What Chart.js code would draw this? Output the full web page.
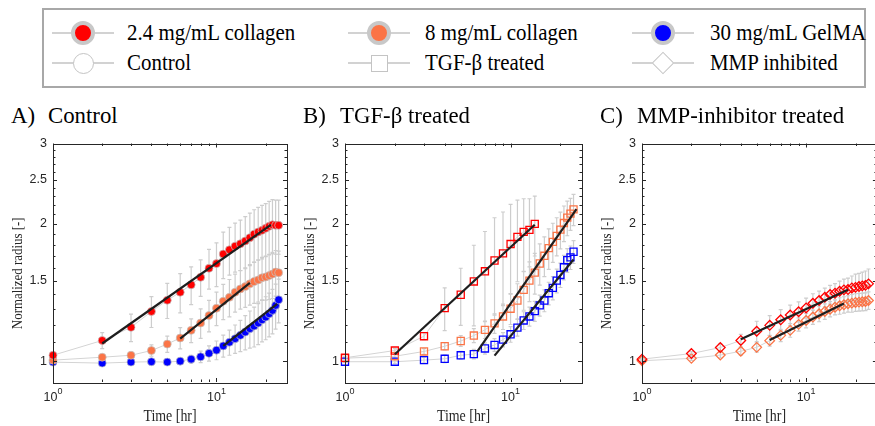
<!DOCTYPE html>
<html>
<head>
<meta charset="utf-8">
<script src="https://cdn.jsdelivr.net/npm/chart.js@4.4.0/dist/chart.umd.min.js"></script>
<style>
  html, body { margin: 0; padding: 0; background: #fff; }
  #page { position: relative; width: 875px; height: 426px; overflow: hidden; font-family: "Liberation Serif", "Times New Roman", serif; color: #000; }
  canvas { position: absolute; top: 130px; }
  .legend { position: absolute; left: 42px; top: 8px; width: 824px; height: 80px; border: 2px solid #a8a8a8; box-sizing: border-box; }
  .lg-line { position: absolute; height: 2px; width: 62px; background: #d2d2d2; }
  .lg-mark { position: absolute; box-sizing: border-box; }
  .lg-text { position: absolute; font-size: 22.5px; line-height: 22px; white-space: nowrap; transform: scaleX(0.93); transform-origin: 0 0; }
  .ptitle { position: absolute; top: 103px; font-size: 24px; line-height: 24px; white-space: nowrap; transform: scaleX(0.95); transform-origin: 0 0; }
</style>
</head>
<body>
<div id="page">
  <div class="legend"></div>
  <canvas id="chartA" width="300" height="296" style="left:0px"></canvas>
  <canvas id="chartB" width="300" height="296" style="left:292px"></canvas>
  <canvas id="chartC" width="294" height="296" style="left:589px"></canvas>
</div>
<script>
// time points [hr]
const hours = [1, 2, 3, 4, 5, 6, 7, 8, 9, 10, 11, 12, 13, 14, 15, 16, 17, 18, 19, 20, 21, 22, 23, 24];

// A) Control
const ctrlCol24 = [1.03, 1.11, 1.186, 1.285, 1.36, 1.416, 1.47, 1.527, 1.598, 1.636, 1.717, 1.754, 1.787, 1.808, 1.834, 1.865, 1.897, 1.919, 1.935, 1.955, 1.975, 1.99, 1.985, 1.985];
const ctrlCol8 = [1.005, 1.02, 1.03, 1.055, 1.09, 1.124, 1.168, 1.212, 1.259, 1.306, 1.353, 1.38, 1.416, 1.44, 1.457, 1.477, 1.494, 1.507, 1.523, 1.53, 1.54, 1.552, 1.568, 1.563];
const ctrlGel = [0.995, 0.99, 0.995, 0.997, 0.995, 1.0, 1.01, 1.022, 1.04, 1.057, 1.08, 1.10, 1.12, 1.139, 1.158, 1.178, 1.194, 1.212, 1.232, 1.249, 1.27, 1.292, 1.325, 1.363];
const ctrlCol24Err = [0.01, 0.045, 0.082, 0.1, 0.12, 0.14, 0.14, 0.14, 0.16, 0.18, 0.2, 0.21, 0.22, 0.23, 0.24, 0.245, 0.25, 0.255, 0.26, 0.26, 0.265, 0.27, 0.27, 0.27];
const ctrlCol8Err = [0.005, 0.01, 0.015, 0.03, 0.045, 0.06, 0.07, 0.09, 0.1, 0.11, 0.12, 0.13, 0.135, 0.14, 0.145, 0.15, 0.155, 0.16, 0.165, 0.17, 0.175, 0.18, 0.18, 0.18];
const ctrlGelErr = [0.005, 0.01, 0.01, 0.01, 0.012, 0.015, 0.02, 0.03, 0.04, 0.05, 0.06, 0.07, 0.08, 0.09, 0.1, 0.11, 0.12, 0.125, 0.13, 0.135, 0.14, 0.145, 0.15, 0.15];

// B) TGF-beta treated
const tgfCol24 = [1.017, 1.055, 1.134, 1.307, 1.398, 1.495, 1.574, 1.662, 1.723, 1.806, 1.873, 1.92, 1.94, 2.0];
const tgfCol8 = [1.015, 1.025, 1.05, 1.078, 1.107, 1.138, 1.171, 1.21, 1.253, 1.303, 1.358, 1.433, 1.501, 1.563, 1.637, 1.702, 1.769, 1.826, 1.882, 1.942, 2.008, 2.063, 2.105, 2.151];
const tgfGel = [0.997, 0.997, 1.005, 1.012, 1.03, 1.036, 1.066, 1.085, 1.115, 1.145, 1.184, 1.228, 1.253, 1.287, 1.325, 1.358, 1.409, 1.447, 1.501, 1.545, 1.606, 1.665, 1.688, 1.737];
const tgfCol24Err = [0.005, 0.01, 0.02, 0.14, 0.2, 0.3, 0.35, 0.4, 0.4, 0.4, 0.38, 0.35, 0.33, 0.3];
const tgfCol8Err = [0.005, 0.01, 0.015, 0.02, 0.03, 0.04, 0.05, 0.06, 0.08, 0.1, 0.12, 0.14, 0.15, 0.16, 0.17, 0.17, 0.18, 0.18, 0.18, 0.18, 0.18, 0.18, 0.17, 0.17];
const tgfGelErr = [0.005, 0.01, 0.015, 0.02, 0.02, 0.025, 0.03, 0.035, 0.04, 0.045, 0.05, 0.055, 0.06, 0.065, 0.07, 0.075, 0.08, 0.085, 0.09, 0.095, 0.1, 0.1, 0.1, 0.1];

// C) MMP-inhibitor treated
const mmpCol24 = [1.01, 1.039, 1.071, 1.11, 1.163, 1.198, 1.232, 1.262, 1.283, 1.308, 1.339, 1.358, 1.38, 1.4, 1.409, 1.423, 1.433, 1.435, 1.447, 1.451, 1.457, 1.462, 1.466, 1.477];
const mmpCol8 = [1.002, 1.014, 1.031, 1.051, 1.072, 1.109, 1.139, 1.168, 1.204, 1.228, 1.249, 1.27, 1.285, 1.3, 1.313, 1.322, 1.329, 1.336, 1.34, 1.345, 1.347, 1.349, 1.351, 1.358];
const mmpCol24Err = [0.005, 0.01, 0.02, 0.035, 0.06, 0.06, 0.065, 0.065, 0.065, 0.066, 0.066, 0.066, 0.065, 0.066, 0.07, 0.075, 0.08, 0.085, 0.09, 0.1, 0.1, 0.105, 0.11, 0.115];
const mmpCol8Err = [0.005, 0.01, 0.015, 0.02, 0.025, 0.03, 0.035, 0.04, 0.04, 0.045, 0.045, 0.05, 0.05, 0.05, 0.05, 0.055, 0.055, 0.055, 0.06, 0.06, 0.06, 0.06, 0.06, 0.06];

// power-law fits: [start hr, end hr] and [start radius, end radius]
const fitCtrlCol24 = { t: [2, 21.5], r: [1.093, 1.99] };
const fitCtrlCol8 = { t: [6, 16], r: [1.12, 1.485] };
const fitCtrlGel = { t: [11, 23.5], r: [1.08, 1.335] };
const fitTgfCol24 = { t: [2, 14], r: [1.035, 1.99] };
const fitTgfCol8 = { t: [6.3, 25], r: [1.05, 2.155] };
const fitTgfGel = { t: [8, 24], r: [1.028, 1.67] };
const fitMmpCol24 = { t: [4, 18], r: [1.117, 1.433] };
const fitMmpCol8 = { t: [6, 17], r: [1.112, 1.338] };

// axes
const yMajorTicks = [1, 1.5, 2, 2.5, 3];
const yTickLabels = ['1', '1.5', '2', '2.5', '3'];
const yMinorTicks = [1.1, 1.2, 1.3, 1.4, 1.6, 1.7, 1.8, 1.9, 2.1, 2.2, 2.3, 2.4, 2.6, 2.7, 2.8, 2.9];
const xMajorTicks = [1, 10];
const xTickExponents = ['0', '1'];
const xMinorTicks = [2, 3, 4, 5, 6, 7, 8, 9, 20];

const legendLabels = ['2.4 mg/mL collagen', '8 mg/mL collagen', '30 mg/mL GelMA', 'Control', 'TGF-\u03b2 treated', 'MMP inhibited'];
const panelTitles = [['A)', 'Control'], ['B)', 'TGF-\u03b2 treated'], ['C)', 'MMP-inhibitor treated']];

const RED = '#ff0000', ORANGE = '#fb7446', BLUE = '#0000ff';
const LINE_GRAY = '#d4d4d4', ERR_GRAY = '#cdcdcd', AXIS = '#262626';
const SERIF = '"Liberation Serif", "Times New Roman", serif';

// ---- legend + panel titles (html text)
const page = document.getElementById('page');
function addEl(cls, css, text) {
    const d = document.createElement('div');
    d.className = cls;
    Object.assign(d.style, css);
    if (text) d.textContent = text;
    page.appendChild(d);
    return d;
}
const colMark = [83, 379, 663], colText = [127, 425, 710], rowY = [33, 63], rowTextTop = [21.5, 51.5];
const markCss = [
    { width: '24px', height: '24px', border: '4px solid #c8c8c8', borderRadius: '50%' },
    { width: '24px', height: '24px', border: '4px solid #c8c8c8', borderRadius: '50%' },
    { width: '24px', height: '24px', border: '4px solid #c8c8c8', borderRadius: '50%' },
    { width: '21px', height: '21px', border: '1.5px solid #c4c4c4', borderRadius: '50%', background: '#fff' },
    { width: '17px', height: '17px', border: '1.5px solid #c4c4c4', background: '#fff' },
    { width: '16px', height: '16px', border: '1.5px solid #c4c4c4', background: '#fff', transform: 'rotate(45deg)' }
];
const markFill = [RED, ORANGE, BLUE];
legendLabels.forEach((lab, i) => {
    const col = i % 3, row = Math.floor(i / 3);
    const cx = colMark[col], cy = rowY[row];
    addEl('lg-line', { left: (cx - 31) + 'px', top: (cy - 1) + 'px' });
    const css = Object.assign({}, markCss[i]);
    const w = parseFloat(css.width);
    css.left = (cx - w / 2) + 'px';
    css.top = (cy - w / 2) + 'px';
    if (row === 0) css.background = markFill[col];
    addEl('lg-mark', css);
    addEl('lg-text', { left: colText[col] + 'px', top: rowTextTop[row] + 'px' }, lab);
});
const titleX = [[11, 48], [303, 340], [600, 637]];
panelTitles.forEach((pt, i) => {
    addEl('ptitle', { left: titleX[i][0] + 'px' }, pt[0]);
    addEl('ptitle', { left: titleX[i][1] + 'px' }, pt[1]);
});

// ---- chart helpers
const axisDecor = {
    id: 'axisDecor',
    beforeDatasetsDraw(chart) {
        // error bars, under the markers
        const { ctx, scales: { x, y } } = chart;
        ctx.save();
        ctx.strokeStyle = ERR_GRAY;
        ctx.lineWidth = 1.2;
        chart.data.datasets.forEach(ds => {
            if (!ds.errorBars) return;
            ds.data.forEach((p, i) => {
                const e = ds.errorBars[i];
                const px = x.getPixelForValue(p.x);
                const y1 = y.getPixelForValue(p.y + e), y2 = y.getPixelForValue(p.y - e);
                ctx.beginPath();
                ctx.moveTo(px, y1); ctx.lineTo(px, y2);
                ctx.moveTo(px - 2, y1); ctx.lineTo(px + 2, y1);
                ctx.moveTo(px - 2, y2); ctx.lineTo(px + 2, y2);
                ctx.stroke();
            });
        });
        ctx.restore();
    },
    afterDraw(chart) {
        const { ctx, chartArea: a, scales: { x, y } } = chart;
        ctx.save();
        ctx.strokeStyle = AXIS;
        ctx.lineWidth = 1;
        ctx.strokeRect(Math.round(a.left) + 0.5, Math.round(a.top) + 0.5, Math.round(a.right - a.left), Math.round(a.bottom - a.top));
        // inward ticks on all four sides
        ctx.beginPath();
        const yt = (v, len) => {
            const py = Math.round(y.getPixelForValue(v)) + 0.5;
            ctx.moveTo(a.left, py); ctx.lineTo(a.left + len, py);
            ctx.moveTo(a.right, py); ctx.lineTo(a.right - len, py);
        };
        const xt = (v, len) => {
            const px = Math.round(x.getPixelForValue(v)) + 0.5;
            ctx.moveTo(px, a.bottom); ctx.lineTo(px, a.bottom - len);
            ctx.moveTo(px, a.top); ctx.lineTo(px, a.top + len);
        };
        yMajorTicks.forEach(v => yt(v, 4));
        yMinorTicks.forEach(v => yt(v, 2.5));
        xMajorTicks.forEach(v => xt(v, 4));
        xMinorTicks.forEach(v => xt(v, 2.5));
        ctx.stroke();

        // x tick labels 10^n
        ctx.fillStyle = AXIS;
        ctx.textBaseline = 'middle';
        ctx.textAlign = 'left';
        const baseFont = '12.5px "Liberation Sans", Arial, sans-serif';
        const expFont = '9px "Liberation Sans", Arial, sans-serif';
        xMajorTicks.forEach((v, i) => {
            const px = x.getPixelForValue(v);
            ctx.font = baseFont;
            const wb = ctx.measureText('10').width;
            ctx.font = expFont;
            const we = ctx.measureText(xTickExponents[i]).width;
            const start = px - (wb + we) / 2;
            ctx.font = baseFont;
            ctx.fillText('10', start, a.bottom + 15.5);
            ctx.font = expFont;
            ctx.fillText(xTickExponents[i], start + wb, a.bottom + 9.5);
        });

        // x axis title
        ctx.font = '16px ' + SERIF;
        ctx.textAlign = 'center';
        ctx.save();
        ctx.translate((a.left + a.right) / 2, a.bottom + 35);
        ctx.scale(0.87, 1);
        ctx.fillText('Time [hr]', 0, 0);
        ctx.restore();

        // y axis title
        ctx.font = '15px ' + SERIF;
        ctx.translate(a.left - 34.5, (a.top + a.bottom) / 2 + 10.5);
        ctx.rotate(-Math.PI / 2);
        ctx.scale(0.86, 1);
        ctx.fillText('Normalized radius [-]', 0, 0);
        ctx.restore();
    }
};

function seriesSet(vals, errs, color, style) {
    const filled = style === 'circle';
    return {
        data: vals.map((v, i) => ({ x: hours[i], y: v })),
        errorBars: errs,
        borderColor: LINE_GRAY,
        borderWidth: 1,
        pointStyle: style,
        pointRadius: filled ? 4 : (style === 'rect' ? 5 : 4.8),
        pointBackgroundColor: filled ? color : 'rgba(0,0,0,0)',
        pointBorderColor: filled ? 'rgba(195,195,195,0.7)' : color,
        pointBorderWidth: filled ? 1 : 1.3,
        clip: false,
        order: 1
    };
}
function fitSet(fit) {
    return {
        data: fit.t.map((t, i) => ({ x: t, y: fit.r[i] })),
        borderColor: '#1e1e1e',
        borderWidth: 2.2,
        pointRadius: 0,
        clip: false,
        order: 0
    };
}

function makePanel(id, datasets, padRight) {
    return new Chart(document.getElementById(id), {
        type: 'line',
        data: { datasets },
        options: {
            responsive: false,
            animation: false,
            devicePixelRatio: 1,
            layout: { padding: { top: 13, right: padRight, left: 0, bottom: 0 } },
            plugins: { legend: { display: false }, tooltip: { enabled: false } },
            scales: {
                x: {
                    type: 'logarithmic', min: 1, max: 27,
                    grid: { display: false, drawTicks: false },
                    border: { display: false },
                    ticks: { display: false },
                    afterFit: s => { s.height = 44; }
                },
                y: {
                    type: 'logarithmic', min: 0.9, max: 3,
                    grid: { display: false, drawTicks: false },
                    border: { display: false },
                    ticks: {
                        padding: 6, color: AXIS,
                        font: { family: '"Liberation Sans", Arial, sans-serif', size: 12.5 },
                        callback: (v, i) => yTickLabels[i]
                    },
                    afterBuildTicks: s => { s.ticks = yMajorTicks.map(v => ({ value: v })); },
                    afterFit: s => { s.width = 53; }
                }
            }
        },
        plugins: [axisDecor]
    });
}

makePanel('chartA', [
    fitSet(fitCtrlCol24), fitSet(fitCtrlCol8), fitSet(fitCtrlGel),
    seriesSet(ctrlCol24, ctrlCol24Err, RED, 'circle'),
    seriesSet(ctrlCol8, ctrlCol8Err, ORANGE, 'circle'),
    seriesSet(ctrlGel, ctrlGelErr, BLUE, 'circle')
], 13);

makePanel('chartB', [
    fitSet(fitTgfCol24), fitSet(fitTgfCol8), fitSet(fitTgfGel),
    seriesSet(tgfCol24, tgfCol24Err, RED, 'rect'),
    seriesSet(tgfCol8, tgfCol8Err, ORANGE, 'rect'),
    seriesSet(tgfGel, tgfGelErr, BLUE, 'rect')
], 10);

makePanel('chartC', [
    fitSet(fitMmpCol24), fitSet(fitMmpCol8),
    seriesSet(mmpCol24, mmpCol24Err, RED, 'rectRot'),
    seriesSet(mmpCol8, mmpCol8Err, ORANGE, 'rectRot')
], 6);
</script>
</body>
</html>
